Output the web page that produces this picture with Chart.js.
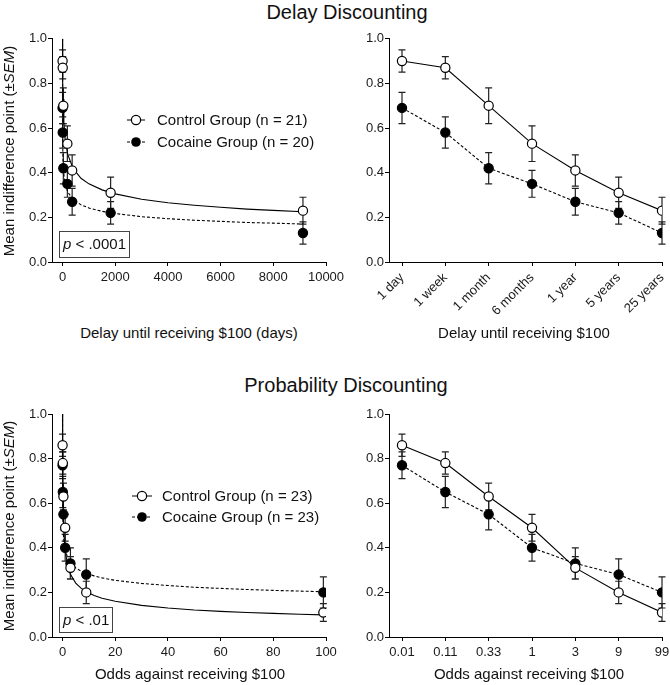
<!DOCTYPE html>
<html><head><meta charset="utf-8">
<script src="https://cdn.jsdelivr.net/npm/chart.js@4"></script>
<style>
body{margin:0;width:670px;height:685px;position:relative;background:#fff;font-family:"Liberation Sans",Arial,sans-serif;color:#111;overflow:hidden}
canvas{position:absolute}
.t{position:absolute;white-space:nowrap;text-align:center;line-height:18px;font-size:15px}
.h{position:absolute;white-space:nowrap;text-align:center;line-height:24px;font-size:20px;width:300px}
.yt{position:absolute;white-space:nowrap;font-size:15px;line-height:18px;width:260px;text-align:center;transform:rotate(-90deg)}
.lg{position:absolute;white-space:nowrap;font-size:15px;line-height:18px}
.pb{position:absolute;border:1.5px solid #444;font-size:15px;line-height:24px;padding-left:3px;box-sizing:border-box}
</style></head><body>
<div class="h" style="left:197px;top:0px">Delay Discounting</div>
<div class="h" style="left:196px;top:373px">Probability Discounting</div>

<canvas id="tl" width="350" height="290" style="left:0;top:30px"></canvas>
<canvas id="tr" width="330" height="290" style="left:340px;top:30px"></canvas>
<canvas id="bl" width="350" height="295" style="left:0;top:390px"></canvas>
<canvas id="br" width="330" height="295" style="left:340px;top:390px"></canvas>

<div class="yt" style="left:-121px;top:142px">Mean indifference point (±<i>SEM</i>)</div>
<div class="yt" style="left:-121px;top:517px">Mean indifference point (±<i>SEM</i>)</div>
<div class="t" style="left:39px;width:300px;top:324px">Delay until receiving $100 (days)</div>
<div class="t" style="left:374px;width:300px;top:324px">Delay until receiving $100</div>
<div class="t" style="left:40px;width:300px;top:665px">Odds against receiving $100</div>
<div class="t" style="left:379px;width:300px;top:665px">Odds against receiving $100</div>

<svg style="position:absolute;left:0;top:0;pointer-events:none" width="670" height="685">
 <line x1="127" y1="120" x2="145" y2="120" stroke="#000" stroke-width="1"/>
 <circle cx="136" cy="120" r="4.6" fill="#fff" stroke="#000" stroke-width="1.2"/>
 <line x1="127" y1="142" x2="145" y2="142" stroke="#000" stroke-width="1" stroke-dasharray="3,2"/>
 <circle cx="136" cy="142" r="4.8" fill="#000"/>
 <line x1="132" y1="496" x2="152" y2="496" stroke="#000" stroke-width="1"/>
 <circle cx="142" cy="496" r="4.6" fill="#fff" stroke="#000" stroke-width="1.2"/>
 <line x1="132" y1="517" x2="152" y2="517" stroke="#000" stroke-width="1" stroke-dasharray="3,2"/>
 <circle cx="142" cy="517" r="4.8" fill="#000"/>
</svg>
<div class="lg" style="left:157px;top:111px">Control Group (n = 21)</div>
<div class="lg" style="left:157px;top:133px">Cocaine Group (n = 20)</div>
<div class="lg" style="left:162px;top:487px">Control Group (n = 23)</div>
<div class="lg" style="left:162px;top:508px">Cocaine Group (n = 23)</div>
<div class="pb" style="left:59px;top:231px;width:71px;height:27px"><i>p</i> &lt; .0001</div>
<div class="pb" style="left:59px;top:607px;width:54px;height:26px"><i>p</i> &lt; .01</div>

<script>
// ---- Delay discounting data ----
const delayDays = [1, 7, 30, 183, 365, 1825, 9125];
const delayLabels = ['1 day', '1 week', '1 month', '6 months', '1 year', '5 years', '25 years'];
const delayControlMean = [0.90, 0.87, 0.70, 0.53, 0.41, 0.31, 0.23];
const delayControlSem = [0.05, 0.05, 0.08, 0.08, 0.07, 0.07, 0.06];
const delayCocaineMean = [0.69, 0.58, 0.42, 0.35, 0.27, 0.22, 0.13];
const delayCocaineSem = [0.07, 0.07, 0.07, 0.06, 0.06, 0.05, 0.05];
// fitted curves
const delayFitX = [0, 1, 5, 10, 20, 50, 100, 200, 400, 700, 1000, 1500, 2000, 3000, 4000, 5000, 6000, 7000, 8000, 9125];
const delayControlFitY = [1.0, 0.966, 0.875, 0.808, 0.73, 0.625, 0.549, 0.481, 0.419, 0.375, 0.350, 0.323, 0.305, 0.281, 0.265, 0.254, 0.245, 0.237, 0.231, 0.225];
const delayCocaineFitY = [1.0, 0.716, 0.563, 0.505, 0.452, 0.391, 0.350, 0.313, 0.280, 0.256, 0.242, 0.227, 0.217, 0.203, 0.194, 0.187, 0.182, 0.177, 0.174, 0.170];
const delayTicks = [0, 2000, 4000, 6000, 8000, 10000];

// ---- Probability discounting data ----
const oddsValues = [0.01, 0.11, 0.33, 1, 3, 9, 99];
const oddsLabels = ['0.01', '0.11', '0.33', '1', '3', '9', '99'];
const probControlMean = [0.86, 0.78, 0.63, 0.49, 0.31, 0.20, 0.11];
const probControlSem = [0.05, 0.05, 0.06, 0.06, 0.05, 0.05, 0.04];
const probCocaineMean = [0.77, 0.65, 0.55, 0.40, 0.33, 0.28, 0.20];
const probCocaineSem = [0.06, 0.07, 0.07, 0.06, 0.07, 0.07, 0.07];
const probFitX = [0, 0.01, 0.1, 0.3, 0.6, 1, 2, 3, 5, 7, 9, 12, 15, 20, 30, 40, 50, 60, 70, 80, 90, 99];
const probControlFitY = [1.0, 0.94, 0.702, 0.541, 0.448, 0.388, 0.317, 0.281, 0.242, 0.219, 0.203, 0.186, 0.174, 0.160, 0.142, 0.130, 0.121, 0.115, 0.110, 0.106, 0.102, 0.099];
const probCocaineFitY = [1.0, 0.74, 0.539, 0.462, 0.419, 0.390, 0.353, 0.333, 0.310, 0.295, 0.285, 0.274, 0.265, 0.254, 0.240, 0.231, 0.223, 0.218, 0.213, 0.209, 0.206, 0.203];
const oddsTicks = [0, 20, 40, 60, 80, 100];

const yTicks = [0, 0.2, 0.4, 0.6, 0.8, 1.0];

Chart.defaults.font.family = "'Liberation Sans', Arial, sans-serif";
Chart.defaults.color = '#1a1a1a';

const errorBars = {
  id: 'errorBars',
  beforeDatasetsDraw(chart) {
    const ctx = chart.ctx, xs = chart.scales.x, ys = chart.scales.y;
    chart.data.datasets.forEach(ds => {
      if (!ds.errors) return;
      ctx.save();
      ctx.strokeStyle = '#222'; ctx.lineWidth = 1.2; ctx.setLineDash([]);
      ds.data.forEach((p, i) => {
        const x = xs.getPixelForValue(p.x);
        const y1 = ys.getPixelForValue(p.y + ds.errors[i]);
        const y2 = ys.getPixelForValue(p.y - ds.errors[i]);
        ctx.beginPath();
        ctx.moveTo(x, y1); ctx.lineTo(x, y2);
        ctx.moveTo(x - 3.5, y1); ctx.lineTo(x + 3.5, y1);
        ctx.moveTo(x - 3.5, y2); ctx.lineTo(x + 3.5, y2);
        ctx.stroke();
      });
      ctx.restore();
    });
  }
};

const pts = (xs, ys) => xs.map((x, i) => ({x: x, y: ys[i]}));

function pointDs(data, errors, filled, showLine) {
  return {
    data: data, errors: errors, showLine: showLine,
    borderColor: '#000', borderWidth: 1.1, borderDash: filled ? [3, 2] : [],
    pointRadius: 4.6, pointBackgroundColor: filled ? '#000' : '#fff',
    pointBorderColor: '#000', pointBorderWidth: 1.2, tension: 0
  };
}
function curveDs(data, dashed) {
  return {
    data: data, showLine: true, pointRadius: 0, borderColor: '#000',
    borderWidth: 1.1, borderDash: dashed ? [3, 2] : [], tension: 0
  };
}

function makeChart(id, datasets, o) {
  new Chart(document.getElementById(id), {
    type: 'scatter',
    data: {datasets: datasets},
    plugins: [errorBars],
    options: {
      responsive: false, animation: false, devicePixelRatio: 1,
      events: [],
      layout: {padding: {top: o.top, right: o.right, left: 0, bottom: 0}},
      plugins: {legend: {display: false}, tooltip: {enabled: false}},
      scales: {
        x: {
          type: 'linear', min: o.xmin, max: o.xmax,
          afterBuildTicks: s => { s.ticks = o.xticks.map(v => ({value: v})); },
          afterFit: s => { s.height = o.xh; s.paddingLeft = 0; s.paddingRight = 0; },
          ticks: {
            autoSkip: false, font: {size: 13}, padding: 4, color: '#1a1a1a',
            minRotation: o.rot, maxRotation: o.rot,
            callback: o.xlab
          },
          grid: {drawOnChartArea: false, drawTicks: true, tickLength: 4, color: '#000', lineWidth: 1},
          border: {color: '#000', width: 1}
        },
        y: {
          min: 0, max: 1,
          afterBuildTicks: s => { s.ticks = yTicks.map(v => ({value: v})); },
          afterFit: s => { s.width = o.yw; s.paddingTop = 0; s.paddingBottom = 0; },
          ticks: {font: {size: 13}, padding: 1, color: '#1a1a1a', callback: v => Number(v).toFixed(1)},
          grid: {drawOnChartArea: false, drawTicks: true, tickLength: 4, color: '#000', lineWidth: 1},
          border: {color: '#000', width: 1}
        }
      }
    }
  });
}

const idx = [0, 1, 2, 3, 4, 5, 6];

// Top-left: delay in days with fitted curves
makeChart('tl', [
  pointDs(pts(delayDays, delayControlMean), delayControlSem, false, false),
  pointDs(pts(delayDays, delayCocaineMean), delayCocaineSem, true, false),
  curveDs(pts(delayFitX, delayControlFitY), false),
  curveDs(pts(delayFitX, delayCocaineFitY), true)
], {top: 8.7, right: 24, yw: 52, xh: 58, xmin: -400, xmax: 10000, xticks: delayTicks, rot: 0, xlab: v => String(v)});

// Top-right: delay categories
makeChart('tr', [
  pointDs(pts(idx, delayControlMean), delayControlSem, false, true),
  pointDs(pts(idx, delayCocaineMean), delayCocaineSem, true, true)
], {top: 8.7, right: 8, yw: 49, xh: 58, xmin: -0.3, xmax: 6, xticks: idx, rot: 45, xlab: v => delayLabels[v]});

// Bottom-left: odds with fitted curves
makeChart('bl', [
  pointDs(pts(oddsValues, probControlMean), probControlSem, false, false),
  pointDs(pts(oddsValues, probCocaineMean), probCocaineSem, true, false),
  curveDs(pts(probFitX, probControlFitY), false),
  curveDs(pts(probFitX, probCocaineFitY), true)
], {top: 24, right: 24, yw: 52, xh: 48, xmin: -4, xmax: 100, xticks: oddsTicks, rot: 0, xlab: v => String(v)});

// Bottom-right: odds categories
makeChart('br', [
  pointDs(pts(idx, probControlMean), probControlSem, false, true),
  pointDs(pts(idx, probCocaineMean), probCocaineSem, true, true)
], {top: 24, right: 8, yw: 49, xh: 48, xmin: -0.3, xmax: 6, xticks: idx, rot: 0, xlab: v => oddsLabels[v]});
</script>
</body></html>
